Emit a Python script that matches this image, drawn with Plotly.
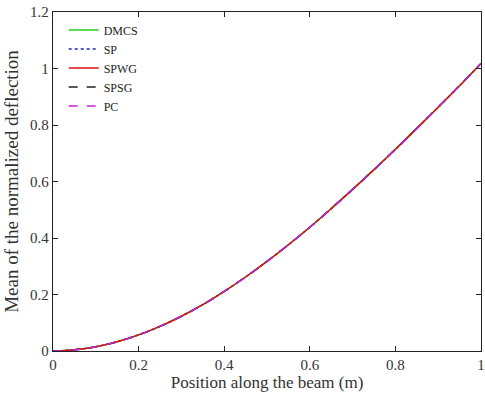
import plotly.graph_objects as go

x_pos = [0, 0.05, 0.1, 0.15, 0.2, 0.25, 0.3, 0.35, 0.4, 0.45, 0.5,
         0.55, 0.6, 0.65, 0.7, 0.75, 0.8, 0.85, 0.9, 0.95, 1.0]
dmcs = [0, 0.004, 0.015, 0.033, 0.057, 0.087, 0.123, 0.164, 0.211, 0.262, 0.317,
        0.376, 0.438, 0.504, 0.572, 0.642, 0.714, 0.788, 0.863, 0.939, 1.018]
sp = [0, 0.004, 0.015, 0.033, 0.057, 0.087, 0.123, 0.164, 0.211, 0.262, 0.317,
      0.376, 0.438, 0.504, 0.572, 0.642, 0.714, 0.788, 0.863, 0.939, 1.018]
spwg = [0, 0.004, 0.015, 0.033, 0.057, 0.087, 0.123, 0.164, 0.211, 0.262, 0.317,
        0.376, 0.438, 0.504, 0.572, 0.642, 0.714, 0.788, 0.863, 0.939, 1.018]
spsg = [0, 0.004, 0.015, 0.033, 0.057, 0.087, 0.123, 0.164, 0.211, 0.262, 0.317,
        0.376, 0.438, 0.504, 0.572, 0.642, 0.714, 0.788, 0.863, 0.939, 1.018]
pc = [0, 0.004, 0.015, 0.033, 0.057, 0.087, 0.123, 0.164, 0.211, 0.262, 0.317,
      0.376, 0.438, 0.504, 0.572, 0.642, 0.714, 0.788, 0.863, 0.939, 1.018]

x_ticks = [0, 0.2, 0.4, 0.6, 0.8, 1]
x_labels = ["0", "0.2", "0.4", "0.6", "0.8", "1"]
y_ticks = [0, 0.2, 0.4, 0.6, 0.8, 1, 1.2]
y_labels = ["0", "0.2", "0.4", "0.6", "0.8", "1", "1.2"]

series = [
    ("DMCS", dmcs, "#22cc22", "solid"),
    ("SP", sp, "#2222bb", "dot"),
    ("SPWG", spwg, "#dd1111", "solid"),
    ("SPSG", spsg, "#222222", "dash"),
    ("PC", pc, "#cc22cc", "dash"),
]

fig = go.Figure()
for name, y, color, dash in series:
    fig.add_trace(go.Scatter(x=x_pos, y=y, mode="lines", name=name,
                             line=dict(color=color, dash=dash, width=1.5, shape="spline")))

font = "Liberation Serif"
axis_common = dict(showline=True, linecolor="#222", linewidth=1.3, mirror="ticks",
                   ticks="inside", ticklen=5, tickcolor="#222", showgrid=False,
                   zeroline=False, automargin=False, ticklabeloverflow="allow",
                   tickfont=dict(family=font, size=15, color="#333"))
fig.update_layout(
    width=485, height=397,
    margin=dict(l=53, r=4, t=12, b=46),
    paper_bgcolor="white", plot_bgcolor="white",
    font=dict(family=font, color="#333"),
    xaxis=dict(range=[0, 1], tickvals=x_ticks, ticktext=x_labels,
               title=dict(text="Position along the beam (m)", font=dict(family=font, size=17), standoff=2),
               **axis_common),
    yaxis=dict(range=[0, 1.2], tickvals=y_ticks, ticktext=y_labels,
               title=dict(text="Mean of the normalized deflection", font=dict(family=font, size=19), standoff=6),
               **axis_common),
    legend=dict(x=0.025, y=0.99, xanchor="left", yanchor="top", bgcolor="rgba(0,0,0,0)",
                font=dict(family=font, size=12, color="#222"), tracegroupgap=0,
                itemwidth=30),
    showlegend=True,
)
fig.write_html("out.html", config={"displayModeBar": False},
               post_script="document.body.style.margin='0';document.body.style.overflow='hidden';")
